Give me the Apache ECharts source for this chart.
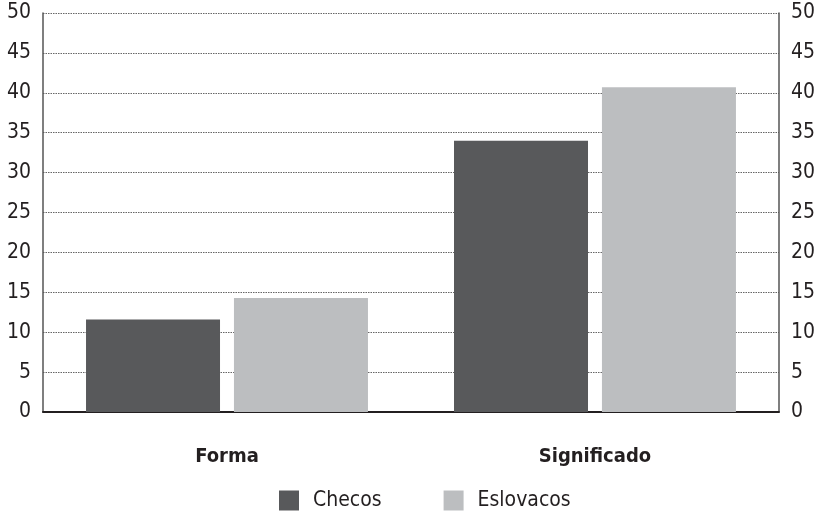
<!DOCTYPE html>
<html><head><meta charset="utf-8">
<script src="https://cdn.jsdelivr.net/npm/echarts@6/dist/echarts.min.js"></script>
<style>html,body{margin:0;padding:0;background:#fff}#c{width:818px;height:517px}</style>
</head><body><div id="c"></div>
<script>
const categories = ['Forma', 'Significado'];
const checos = [11.6, 34.0];
const eslovacos = [14.3, 40.7];
const seriesNames = ['Checos', 'Eslovacos'];
const FONT = '"Liberation Sans Narrow","DejaVu Sans Condensed","Roboto Condensed",sans-serif';
const chart = echarts.init(document.getElementById('c'));
const yAxisCommon = {
  type: 'value', min: 0, max: 50, interval: 5,
  axisLine: {show: true, lineStyle: {color: '#555', width: 1.5}},
  axisTick: {show: false},
  splitLine: {show: true, lineStyle: {color: '#666', type: [1.5, 1], width: 1}},
  axisLabel: {color: '#231f20', fontSize: 21, fontFamily: FONT, margin: 12}
};
chart.setOption({
  animation: false,
  textStyle: {fontFamily: FONT},
  grid: {left: 43, right: 31, top: 13, bottom: 105, containLabel: false},
  xAxis: {
    type: 'category', data: categories,
    axisLine: {show: true, lineStyle: {color: '#231f20', width: 2}},
    axisTick: {show: false},
    axisLabel: {color: '#231f20', fontSize: 20, fontWeight: 'bold', fontFamily: FONT, margin: 35}
  },
  yAxis: [
    Object.assign({}, yAxisCommon, {position: 'left'}),
    Object.assign({}, yAxisCommon, {position: 'right', splitLine: {show: false}})
  ],
  legend: {
    data: seriesNames, left: 274, top: 485, itemWidth: 20, itemHeight: 20, itemGap: 62,
    icon: 'rect',
    textStyle: {color: '#231f20', fontSize: 21, fontFamily: FONT, padding: [0, 0, 0, 9]}
  },
  series: [
    {name: seriesNames[0], type: 'bar', data: checos, barWidth: 134, barGap: '10.4%',
     itemStyle: {color: '#58595b'}},
    {name: seriesNames[1], type: 'bar', data: eslovacos, barWidth: 134, barGap: '10.4%',
     itemStyle: {color: '#bcbec0'}}
  ]
});
</script></body></html>
